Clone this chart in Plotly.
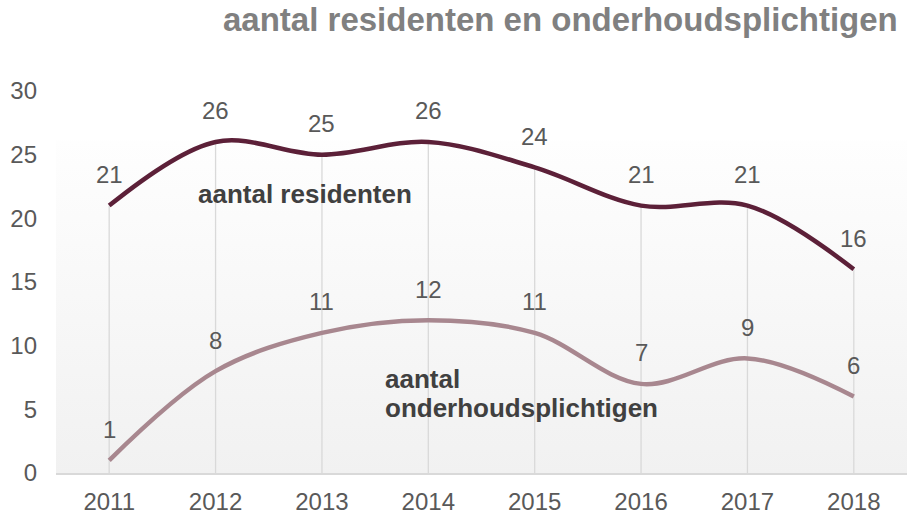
import base64
import plotly.graph_objects as go

years = ["2011", "2012", "2013", "2014", "2015", "2016", "2017", "2018"]
residenten = [21, 26, 25, 26, 24, 21, 21, 16]
onderhoud = [1, 8, 11, 12, 11, 7, 9, 6]
y_ticks = [0, 5, 10, 15, 20, 25, 30]

title_text = "aantal residenten en onderhoudsplichtigen"
label_res = "aantal residenten"
label_ond_1 = "aantal"
label_ond_2 = "onderhoudsplichtigen"

FONT = "Liberation Sans, Arial, sans-serif"
C_RES = "#5c2038"
C_OND = "#a8878f"
C_GRID = "#d9d9d9"
C_TXT = "#595959"

fig = go.Figure()

# drop lines from the top series to the axis
dx, dy = [], []
for i, v in enumerate(residenten):
    dx += [i, i, None]
    dy += [0, v, None]
fig.add_trace(go.Scatter(x=dx, y=dy, mode="lines",
                         line=dict(color=C_GRID, width=1.3),
                         hoverinfo="skip", showlegend=False))

xi = list(range(len(years)))
fig.add_trace(go.Scatter(x=xi, y=residenten, mode="lines",
                         line=dict(color=C_RES, width=4.5, shape="spline", smoothing=1),
                         name=label_res, showlegend=False))
fig.add_trace(go.Scatter(x=xi, y=onderhoud, mode="lines",
                         line=dict(color=C_OND, width=4.5, shape="spline", smoothing=1),
                         name=label_ond_1 + " " + label_ond_2, showlegend=False))

annotations = []
for series in (residenten, onderhoud):
    for i, v in enumerate(series):
        annotations.append(dict(x=i, y=v, xref="x", yref="y", text=str(v),
                                showarrow=False, yshift=31, yanchor="middle",
                                font=dict(family=FONT, size=24, color=C_TXT)))

annotations += [
    dict(x=1.84, y=21.9, xref="x", yref="y", text="<b>%s</b>" % label_res,
         showarrow=False, xanchor="center", yanchor="middle",
         font=dict(family=FONT, size=26, color="#404040")),
    dict(x=2.57, y=7.35, xref="x", yref="y", text="<b>%s</b>" % label_ond_1,
         showarrow=False, xanchor="left", yanchor="middle",
         font=dict(family=FONT, size=26, color="#404040")),
    dict(x=2.57, y=5.1, xref="x", yref="y", text="<b>%s</b>" % label_ond_2,
         showarrow=False, xanchor="left", yanchor="middle",
         font=dict(family=FONT, size=26, color="#404040")),
    dict(x=0.992, y=1.187, xref="paper", yref="paper", text="<b>%s</b>" % title_text,
         showarrow=False, xanchor="right", yanchor="middle",
         font=dict(family=FONT, size=33, color="#808080")),
]

svg = ('<svg xmlns="http://www.w3.org/2000/svg" width="100" height="100" '
       'preserveAspectRatio="none"><defs><linearGradient id="g" x1="0" y1="0" x2="0" y2="1">'
       '<stop offset="0" stop-color="#fefefe"/><stop offset="1" stop-color="#f1f1f1"/>'
       '</linearGradient></defs><rect width="100" height="100" fill="url(#g)"/></svg>')
src = "data:image/svg+xml;base64," + base64.b64encode(svg.encode()).decode()

fig.update_layout(
    width=907, height=515,
    margin=dict(l=56, r=0, t=91, b=42),
    paper_bgcolor="white", plot_bgcolor="rgba(0,0,0,0)",
    showlegend=False,
    annotations=annotations,
    images=[dict(source=src, xref="paper", yref="paper", x=0, y=0.871,
                 sizex=1, sizey=0.871, xanchor="left", yanchor="top",
                 sizing="stretch", layer="below")],
    xaxis=dict(range=[-0.5, 7.5], tickvals=xi, ticktext=years,
               showgrid=False, zeroline=False,
               showline=True, linecolor=C_GRID, linewidth=1.5, ticks="",
               ticklabelstandoff=6,
               tickfont=dict(family=FONT, size=24, color=C_TXT)),
    yaxis=dict(range=[0, 30], tickvals=y_ticks, showgrid=False, zeroline=False,
               showline=False, ticks="", ticklabelstandoff=18,
               tickfont=dict(family=FONT, size=24, color=C_TXT)),
)

fig.write_html("out.html", config={"displayModeBar": False},
               post_script="document.body.style.margin='0';document.body.style.overflow='hidden';")
